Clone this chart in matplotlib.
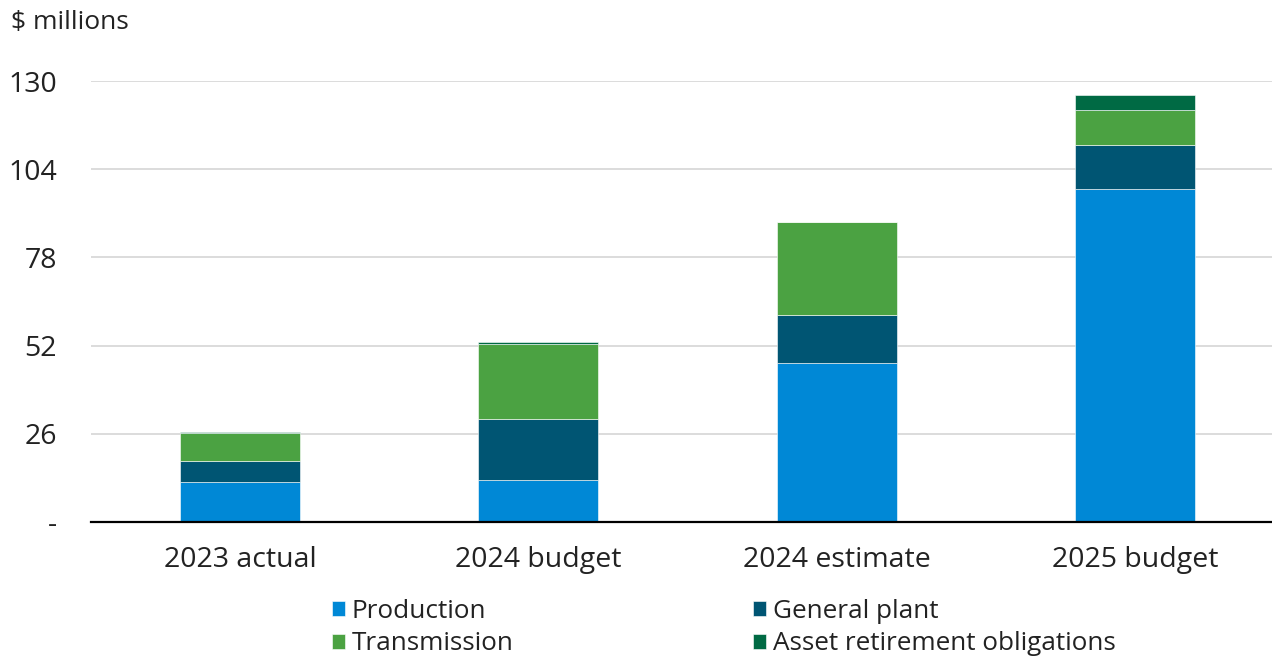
import matplotlib.pyplot as plt
import numpy as np

plt.rcParams['font.family'] = ['Open Sans', 'DejaVu Sans']

# Capital spending by category, $ millions
categories = ["2023 actual", "2024 budget", "2024 estimate", "2025 budget"]
production = [11.7, 12.5, 47.0, 98.1]
general_plant = [6.4, 17.8, 14.1, 13.0]
transmission = [8.1, 22.3, 27.3, 10.3]
asset_retirement = [0.3, 0.6, 0.2, 4.5]

series = [
    ("Production", production, "#0088d6"),
    ("General plant", general_plant, "#005573"),
    ("Transmission", transmission, "#4ba242"),
    ("Asset retirement obligations", asset_retirement, "#006a44"),
]

fig = plt.figure(figsize=(12.72, 6.57), dpi=100)
ax = fig.add_axes([0.0715, 0.2055, 0.938, 0.671])

x = np.arange(len(categories))
bottom = np.zeros(len(categories))
handles = {}
for name, vals, color in series:
    b = ax.bar(x, vals, width=0.403, bottom=bottom, color=color,
               edgecolor="white", linewidth=0.4, label=name, zorder=3)
    handles[name] = b
    bottom += np.array(vals)

ax.set_xlim(-0.5, 3.5)
ax.set_ylim(0, 130)
yticks = [0, 26, 52, 78, 104, 130]
ax.set_yticks(yticks)
ax.set_yticklabels(["-"] + [str(t) for t in yticks[1:]], fontsize=20.5, color="#222222")
ax.set_xticks(x)
ax.set_xticklabels(categories, fontsize=20.5, color="#222222")
ax.tick_params(axis="both", length=0)
ax.tick_params(axis="y", pad=24.5)
ax.tick_params(axis="x", pad=17.5)

ax.grid(axis="y", color="#d9d9d9", linewidth=1.3, zorder=0)
for s in ["top", "right", "left"]:
    ax.spines[s].set_visible(False)
ax.spines["bottom"].set_color("black")
ax.spines["bottom"].set_linewidth(1.6)
ax.spines["bottom"].set_zorder(4)

fig.text(0.009, 0.965, "$ millions", fontsize=19, color="#222222", va="center")

# legend fills column-wise, so order entries to read row by row
order = ["Production", "Transmission", "General plant", "Asset retirement obligations"]
leg = fig.legend(handles=[handles[n] for n in order], labels=order,
                 loc="center", bbox_to_anchor=(0.569, 0.045), ncol=2,
                 frameon=False, fontsize=18.8, handlelength=0.5, handleheight=0.5,
                 handletextpad=0.23, columnspacing=9.2, labelspacing=0.3)
for t in leg.get_texts():
    t.set_color("#222222")

fig.savefig("out.png", dpi=100)
